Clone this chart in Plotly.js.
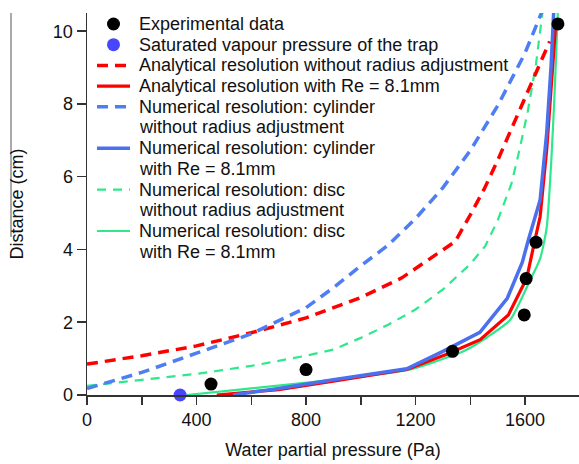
<!DOCTYPE html>
<html>
<head>
<meta charset="utf-8">
<script src="https://cdn.plot.ly/plotly-3.0.1.min.js"></script>
<style>html,body{margin:0;padding:0;background:#fff;}#chart{width:579px;height:464px;}</style>
</head>
<body>
<div id="chart"></div>
<script>
// ---------- data ----------
const expX = [453, 800, 1335, 1597, 1604, 1640, 1720];
const expY = [0.3, 0.7, 1.2, 2.2, 3.2, 4.2, 10.2];

const satX = [340];
const satY = [0];

const anaNoAdjX = [0, 200, 400, 600, 800, 1000, 1150, 1345, 1400, 1450, 1500, 1550, 1600, 1650, 1690];
const anaNoAdjY = [0.85, 1.08, 1.35, 1.71, 2.12, 2.68, 3.22, 4.22, 4.95, 5.65, 6.45, 7.3, 8.2, 9.05, 9.72];

const anaReX = [474, 700, 900, 1168, 1314, 1436, 1539, 1606, 1636, 1655, 1679, 1697, 1712];
const anaReY = [0, 0.15, 0.38, 0.7, 1.12, 1.52, 2.2, 3.21, 4.26, 4.9, 6.74, 8.57, 10.2];

const cylNoAdjX = [0, 200, 400, 600, 800, 900, 1000, 1100, 1200, 1300, 1400, 1500, 1600, 1665];
const cylNoAdjY = [0.18, 0.62, 1.15, 1.68, 2.4, 2.95, 3.55, 4.12, 4.85, 5.7, 6.72, 7.95, 9.4, 10.6];

const cylReX = [533, 700, 900, 1168, 1300, 1435, 1535, 1590, 1612, 1655, 1679, 1695, 1705];
const cylReY = [0, 0.18, 0.42, 0.72, 1.2, 1.72, 2.66, 3.65, 4.26, 5.36, 7.2, 9.03, 10.6];

const discNoAdjX = [0, 200, 400, 600, 800, 900, 1000, 1100, 1200, 1300, 1400, 1455, 1500, 1550, 1580, 1610, 1640, 1665];
const discNoAdjY = [0.25, 0.42, 0.58, 0.8, 1.08, 1.25, 1.57, 1.93, 2.35, 2.9, 3.6, 4.1, 4.8, 5.8, 6.75, 7.8, 9.1, 10.6];

const discReX = [364, 600, 900, 1168, 1253, 1375, 1460, 1545, 1618, 1655, 1679, 1697, 1709, 1720];
const discReY = [0, 0.18, 0.42, 0.68, 0.87, 1.2, 1.58, 2.06, 3.15, 3.75, 4.6, 6.6, 8.5, 10.6];

const xTickVals = [0, 200, 400, 600, 800, 1000, 1200, 1400, 1600, 1800];
const xTickText = ['0', '', '400', '', '800', '', '1200', '', '1600', ''];
const yTickVals = [0, 2, 4, 6, 8, 10];
const yTickText = ['0', '2', '4', '6', '8', '10'];

const xTitle = 'Water partial pressure (Pa)';
const yTitle = 'Distance (cm)';

const labels = [
  'Experimental data',
  'Saturated vapour pressure of the trap',
  'Analytical resolution without radius adjustment',
  'Analytical resolution with Re = 8.1mm',
  'Numerical resolution: cylinder<br>without radius adjustment',
  'Numerical resolution: cylinder<br>with Re = 8.1mm',
  'Numerical resolution: disc<br>without radius adjustment',
  'Numerical resolution: disc<br>with Re = 8.1mm'
];

// ---------- styles ----------
const FONT = 'Arial, "Liberation Sans", sans-serif';
const RED = '#ff0000', BLUE_D = '#4d7ef2', BLUE_S = '#4a70ee', GREEN = '#2ee88c';
const styles = [
  {kind: 'marker', color: '#000000', size: 13},
  {kind: 'marker', color: '#4646ff', size: 13},
  {kind: 'line', color: RED, width: 3.5, dash: '11px,7px'},
  {kind: 'line', color: RED, width: 3.2, dash: 'solid'},
  {kind: 'line', color: BLUE_D, width: 3.5, dash: '11px,7px'},
  {kind: 'line', color: BLUE_S, width: 3.5, dash: 'solid'},
  {kind: 'line', color: GREEN, width: 2.2, dash: '9px,7px'},
  {kind: 'line', color: GREEN, width: 2.2, dash: 'solid'}
];
const series = [
  [expX, expY], [satX, satY],
  [anaNoAdjX, anaNoAdjY], [anaReX, anaReY],
  [cylNoAdjX, cylNoAdjY], [cylReX, cylReY],
  [discNoAdjX, discNoAdjY], [discReX, discReY]
];

// draw order: dashed lines, solid lines, then markers
const drawOrder = [6, 2, 4, 7, 3, 5, 0, 1];
const traces = drawOrder.map(i => {
  const s = styles[i];
  const t = {x: series[i][0], y: series[i][1], name: labels[i].replace('<br>', ' '), showlegend: false, hoverinfo: 'skip'};
  if (s.kind === 'marker') {
    t.type = 'scatter'; t.mode = 'markers'; t.cliponaxis = false;
    t.marker = {color: s.color, size: s.size, line: {width: 0}};
  } else {
    t.type = 'scatter'; t.mode = 'lines';
    t.line = {color: s.color, width: s.width, dash: s.dash, shape: i === 7 ? 'spline' : 'linear', smoothing: 0.6};
  }
  return t;
});

// ---------- manual legend (tight line spacing like the reference) ----------
const M = {l: 87, r: 0, t: 13, b: 69};
const PW = 579 - M.l - M.r, PH = 464 - M.t - M.b;
const px2x = px => (px - M.l) / PW;
const py2y = py => (M.t + PH - py) / PH;

const annotations = [], shapes = [];
const rowH = 20.7, row0 = 24, symX0 = 97, symX1 = 130, symC = 113.5, textX = 138;
let row = 0;
labels.forEach((lab, i) => {
  const s = styles[i];
  const yc = row0 + row * rowH;
  if (s.kind === 'marker') {
    shapes.push({type: 'circle', xref: 'paper', yref: 'paper', xsizemode: 'pixel', ysizemode: 'pixel',
      xanchor: px2x(symC), yanchor: py2y(yc), x0: -6.5, x1: 6.5, y0: -6.5, y1: 6.5,
      fillcolor: s.color, line: {width: 0}});
  } else {
    shapes.push({type: 'line', xref: 'paper', yref: 'paper', x0: px2x(symX0), x1: px2x(symX1),
      y0: py2y(yc), y1: py2y(yc), line: {color: s.color, width: s.width, dash: s.dash}});
  }
  lab.split('<br>').forEach(line => {
    const y = row0 + row * rowH;
    annotations.push({xref: 'paper', yref: 'paper', x: px2x(textX), y: py2y(y), xanchor: 'left', yanchor: 'middle',
      text: line, showarrow: false, font: {family: FONT, size: 18, color: '#111'}, borderpad: 0});
    row++;
  });
});

// thin border line at the far left of the reference picture
shapes.push({type: 'line', xref: 'paper', yref: 'paper', x0: px2x(11), x1: px2x(11), y0: py2y(13), y1: py2y(237),
  line: {color: '#555', width: 1}});

const axisCommon = {
  showgrid: false, zeroline: false, showline: true, linecolor: '#333', linewidth: 1.5,
  ticks: 'outside', tickcolor: '#333', tickwidth: 1.5, tickmode: 'array',
  tickfont: {family: FONT, size: 18, color: '#111'}, fixedrange: true
};

const layout = {
  width: 579, height: 464,
  margin: M,
  paper_bgcolor: '#fff', plot_bgcolor: '#fff',
  showlegend: false,
  font: {family: FONT, size: 18, color: '#111'},
  xaxis: Object.assign({}, axisCommon, {
    range: [0, 1797], tickvals: xTickVals, ticktext: xTickText, ticklen: 8,
    title: {text: xTitle, font: {family: FONT, size: 18, color: '#111'}, standoff: 14}
  }),
  yaxis: Object.assign({}, axisCommon, {
    range: [0, 10.5], tickvals: yTickVals, ticktext: yTickText, ticklen: 9,
    title: {text: yTitle, font: {family: FONT, size: 18, color: '#111'}, standoff: 24}
  }),
  annotations: annotations,
  shapes: shapes
};

Plotly.newPlot('chart', traces, layout, {displayModeBar: false, staticPlot: true});
</script>
</body>
</html>
